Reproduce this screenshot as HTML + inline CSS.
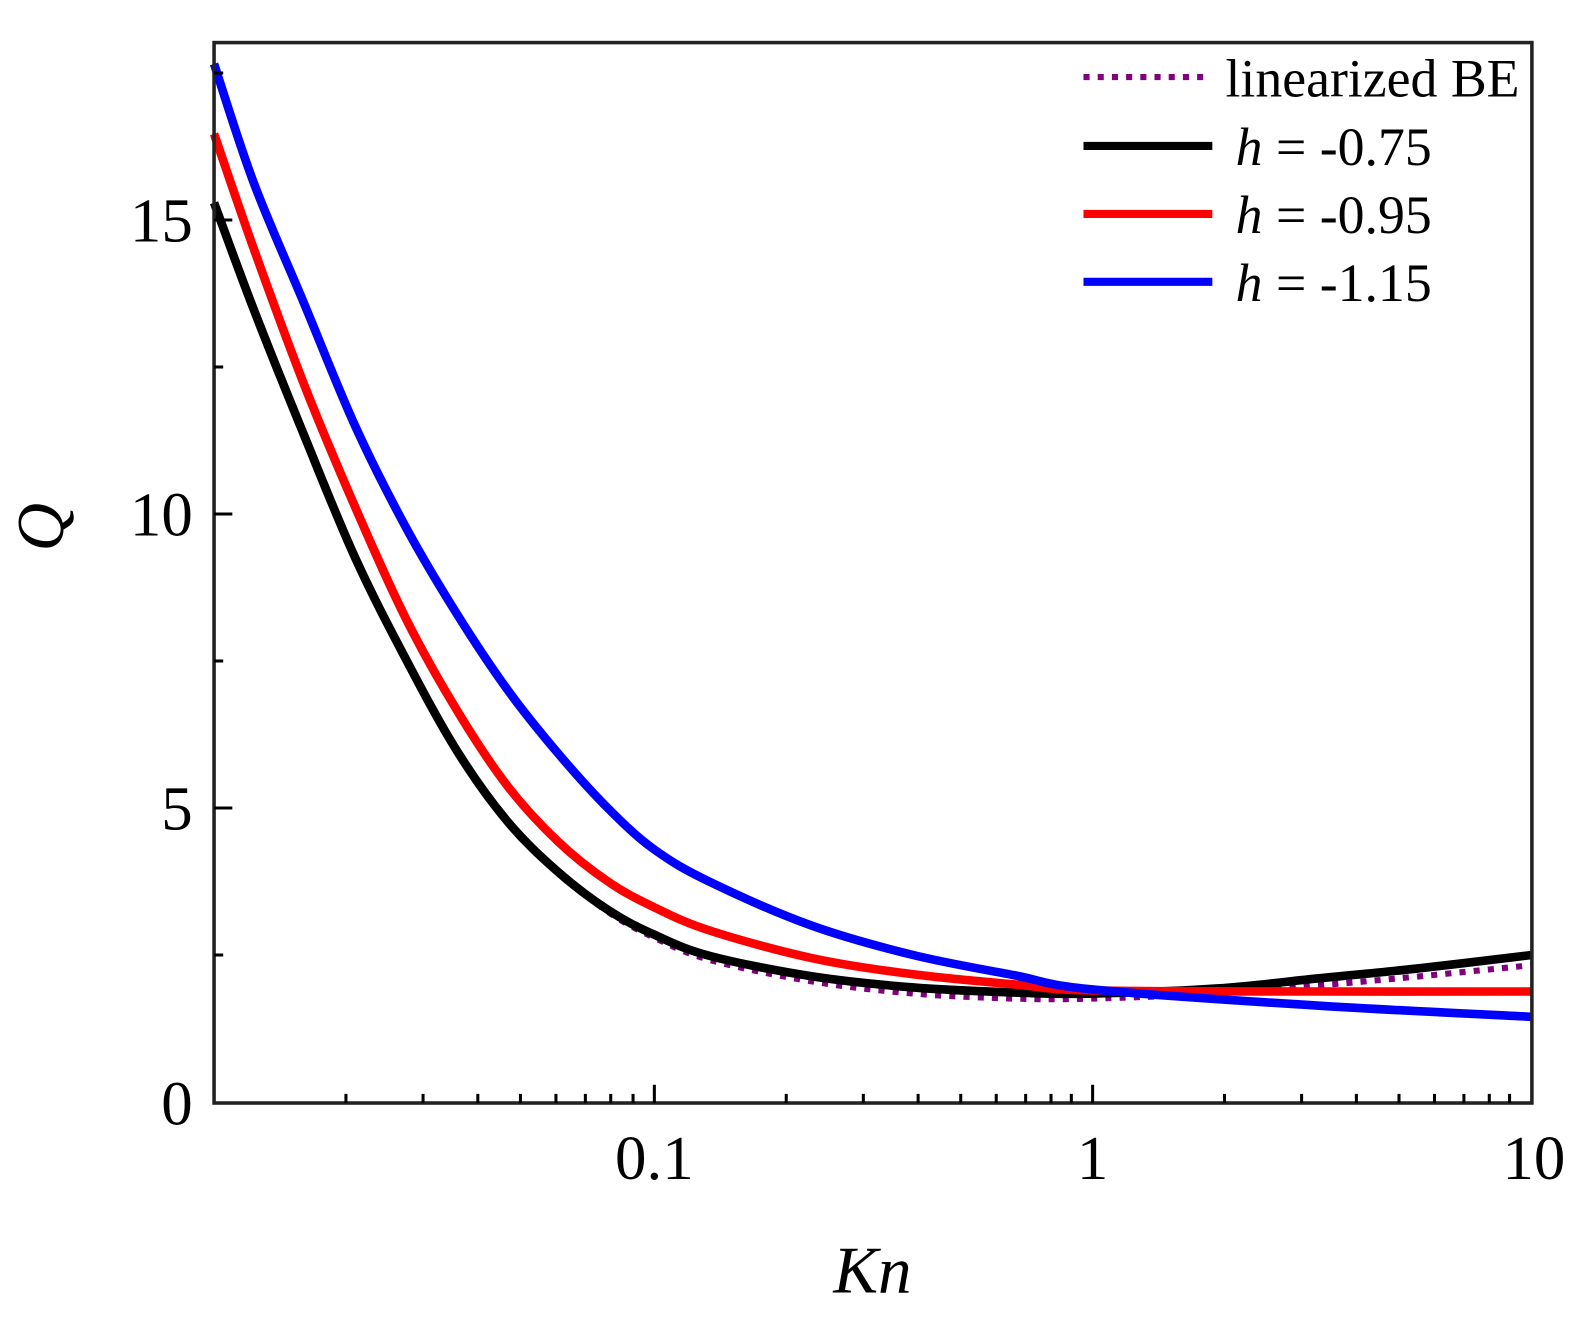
<!DOCTYPE html><html><head><style>body{margin:0;background:#fff}</style></head><body>
<svg width="1590" height="1324" xmlns="http://www.w3.org/2000/svg" font-family="Liberation Serif, serif">
<rect width="1590" height="1324" fill="#fff"/>
<g transform="scale(1.0145,1.0138)">
<g fill="none" stroke-linejoin="round" stroke-linecap="butt">
<path stroke="#800080" stroke-width="6" stroke-dasharray="6,8" data-pts="211,200 250,305 300,430 350,550 400,650 450,740 500,810 550,860 600,900 645,925 700,947 800,968 900,980 1000,985 1077,985 1200,980 1300,972 1400,963 1510,952"/>
<path stroke="#000" stroke-width="8.5" data-pts="211,200 250,305 300,430 350,550 400,650 450,740 500,810 550,860 600,898 645,922 700,943 800,963 900,974 1000,979 1077,980 1200,975 1300,965 1400,955 1510,942"/>
<path stroke="#f00" stroke-width="8.5" data-pts="211,132 250,245 300,380 350,500 400,610 450,700 500,775 550,830 600,870 645,895 700,918 800,945 900,961 1000,971 1077,977 1300,978 1510,978"/>
<path stroke="#00f" stroke-width="8.5" data-pts="211,63 250,180 300,300 350,420 400,520 450,605 500,680 550,743 600,798 645,838 700,870 800,913 900,942 1000,962 1077,976 1300,992 1510,1003"/>
</g>
<rect x="211" y="42" width="1299" height="1046" fill="none" stroke="#222" stroke-width="3.5"/>
<g stroke="#000" stroke-width="3">
<line x1="645" y1="1088" x2="645" y2="1070"/><line x1="1077" y1="1088" x2="1077" y2="1070"/>
<line x1="341" y1="1088" x2="341" y2="1079"/><line x1="417" y1="1088" x2="417" y2="1079"/><line x1="471" y1="1088" x2="471" y2="1079"/><line x1="513" y1="1088" x2="513" y2="1079"/><line x1="548" y1="1088" x2="548" y2="1079"/><line x1="577" y1="1088" x2="577" y2="1079"/><line x1="602" y1="1088" x2="602" y2="1079"/><line x1="624" y1="1088" x2="624" y2="1079"/>
<line x1="775" y1="1088" x2="775" y2="1079"/><line x1="851" y1="1088" x2="851" y2="1079"/><line x1="905" y1="1088" x2="905" y2="1079"/><line x1="947" y1="1088" x2="947" y2="1079"/><line x1="982" y1="1088" x2="982" y2="1079"/><line x1="1011" y1="1088" x2="1011" y2="1079"/><line x1="1036" y1="1088" x2="1036" y2="1079"/><line x1="1056" y1="1088" x2="1056" y2="1079"/>
<line x1="1207" y1="1088" x2="1207" y2="1079"/><line x1="1283" y1="1088" x2="1283" y2="1079"/><line x1="1337" y1="1088" x2="1337" y2="1079"/><line x1="1379" y1="1088" x2="1379" y2="1079"/><line x1="1414" y1="1088" x2="1414" y2="1079"/><line x1="1443" y1="1088" x2="1443" y2="1079"/><line x1="1468" y1="1088" x2="1468" y2="1079"/><line x1="1488" y1="1088" x2="1488" y2="1079"/>
<line x1="211" y1="797" x2="229" y2="797"/><line x1="211" y1="507" x2="229" y2="507"/><line x1="211" y1="217" x2="229" y2="217"/>
<line x1="211" y1="942" x2="220" y2="942"/><line x1="211" y1="652" x2="220" y2="652"/><line x1="211" y1="362" x2="220" y2="362"/><line x1="211" y1="72" x2="220" y2="72"/>
</g>
<g font-size="62" fill="#000">
<text x="190" y="1109" text-anchor="end">0</text>
<text x="190" y="818" text-anchor="end">5</text>
<text x="190" y="528" text-anchor="end">10</text>
<text x="190" y="238" text-anchor="end">15</text>
<text x="645" y="1163" text-anchor="middle">0.1</text>
<text x="1077" y="1163" text-anchor="middle">1</text>
<text x="1512" y="1163" text-anchor="middle">10</text>
<text x="860" y="1275" text-anchor="middle" font-style="italic" font-size="66">Kn</text>
<text transform="translate(62,520) rotate(-90)" text-anchor="middle" font-style="italic" font-size="66">Q</text>
</g>
<g stroke-width="8">
<line x1="1068" y1="76" x2="1190" y2="76" stroke="#800080" stroke-dasharray="6,8" stroke-width="6"/>
<line x1="1068" y1="144" x2="1195" y2="144" stroke="#000"/>
<line x1="1068" y1="211" x2="1195" y2="211" stroke="#f00"/>
<line x1="1068" y1="278" x2="1195" y2="278" stroke="#00f"/>
</g>
<g font-size="53" fill="#000">
<text x="1208" y="95">linearized BE</text>
<text x="1218" y="163"><tspan font-style="italic">h</tspan> = -0.75</text>
<text x="1218" y="230"><tspan font-style="italic">h</tspan> = -0.95</text>
<text x="1218" y="297"><tspan font-style="italic">h</tspan> = -1.15</text>
</g>
</g>
</svg>
<script>
document.querySelectorAll('path[data-pts]').forEach(function(el){
 var P=el.getAttribute('data-pts').trim().split(/\s+/).map(function(s){return s.split(',').map(Number)});
 var d='M'+P[0][0]+','+P[0][1];
 for(var i=0;i<P.length-1;i++){
  var p0=P[i-1]||P[i],p1=P[i],p2=P[i+1],p3=P[i+2]||p2;
  var c1=[p1[0]+(p2[0]-p0[0])/6,p1[1]+(p2[1]-p0[1])/6];
  var c2=[p2[0]-(p3[0]-p1[0])/6,p2[1]-(p3[1]-p1[1])/6];
  d+=' C'+c1[0]+','+c1[1]+' '+c2[0]+','+c2[1]+' '+p2[0]+','+p2[1];
 }
 el.setAttribute('d',d);el.removeAttribute('data-pts');
});
</script>
</body></html>
